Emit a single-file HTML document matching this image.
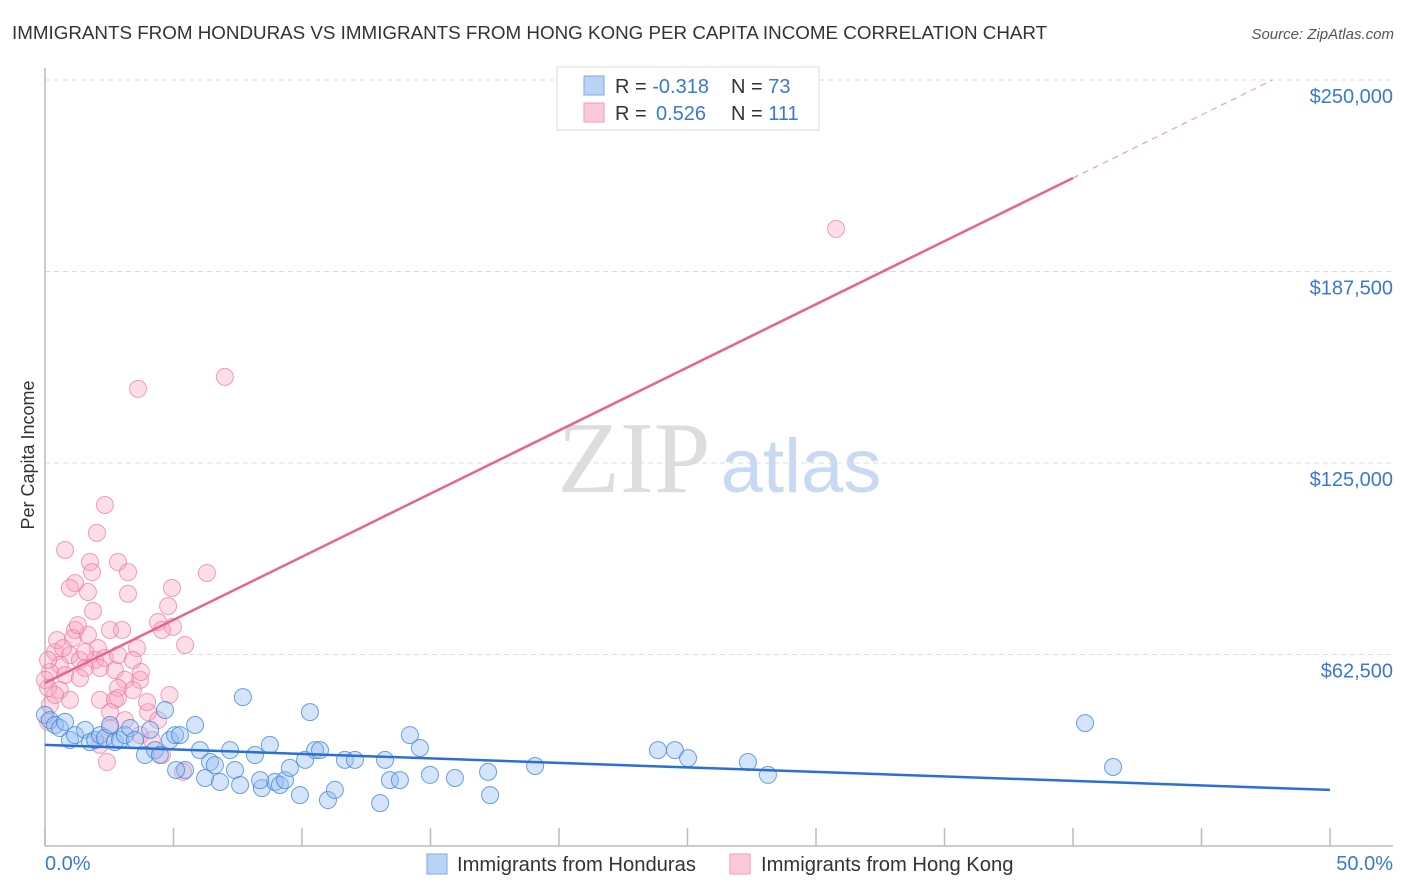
<!DOCTYPE html>
<html><head><meta charset="utf-8"><style>
body{margin:0;background:#fff;font-family:"Liberation Sans",sans-serif}
svg{display:block}
</style></head><body>
<svg id="chart" width="1406" height="892">
<text x="12" y="39" font-size="18.8" fill="#333">IMMIGRANTS FROM HONDURAS VS IMMIGRANTS FROM HONG KONG PER CAPITA INCOME CORRELATION CHART</text>
<text x="1394" y="39" font-size="15" fill="#555" font-style="italic" text-anchor="end">Source: ZipAtlas.com</text>
<text x="634" y="492" font-size="102" fill="#ddd" font-family="Liberation Serif,serif" text-anchor="middle">ZIP</text>
<text x="801" y="492" font-size="76" fill="#c8daf3" text-anchor="middle">atlas</text>
<g id="grid"></g><g id="axes"></g><g id="pts"></g><g id="lines"></g>
<text transform="translate(34,455) rotate(-90)" font-size="18" fill="#333" text-anchor="middle">Per Capita Income</text>
<g>
<rect x="557" y="67" width="262" height="63" fill="#fff" stroke="#ddd"/>
<rect x="584" y="76" width="20" height="19" fill="#b9d3f5" stroke="#7aaae8"/>
<rect x="584" y="103" width="20" height="19" fill="#fcc9d8" stroke="#f09ab4"/>
<text x="615" y="93" font-size="20" fill="#333">R = <tspan fill="#3a78d4">-0.318</tspan><tspan x="731">N = </tspan><tspan fill="#3a78d4">73</tspan></text>
<text x="615" y="120" font-size="20" fill="#333">R = <tspan x="656" fill="#3a78d4">0.526</tspan><tspan x="731">N = </tspan><tspan fill="#3a78d4">111</tspan></text>
</g>
<g>
<rect x="427" y="854" width="20" height="20" fill="#b9d3f5" stroke="#7aaae8"/>
<text x="457" y="871" font-size="20.2" fill="#333">Immigrants from Honduras</text>
<rect x="730" y="854" width="20" height="20" fill="#fcc9d8" stroke="#f09ab4"/>
<text x="761" y="871" font-size="20.2" fill="#333">Immigrants from Hong Kong</text>
</g>
</svg>
<script>
const yTicks=[62500,125000,187500,250000];
const yTickLabels=["$62,500","$125,000","$187,500","$250,000"];
const xTicks=[0,5,10,15,20,25,30,35,40,45,50];
const blueX=[0,0.19,0.39,0.58,0.78,0.97,1.17,1.56,1.75,1.95,2.14,2.33,2.53,2.72,2.92,3.11,3.31,3.5,3.89,4.09,4.28,4.47,4.67,4.86,5.06,5.25,5.45,5.84,6.03,6.23,6.42,6.61,6.81,7.2,7.39,7.59,8.17,8.44,8.75,8.95,9.14,9.34,9.53,9.92,10.12,10.31,10.51,10.7,11.01,11.28,11.67,12.06,13.04,13.23,13.42,14.2,14.59,14.98,15.95,17.24,17.32,19.07,7.7,23.85,24.51,25.02,27.35,28.13,40.47,41.56,13.81,8.37,5.1];
const blueY=[42.8,41.1,39.5,38.5,40.5,34.6,36.2,37.9,33.9,34.6,36.2,35.3,39.5,33.9,34.6,36.2,38.5,34.6,29.7,37.9,31.3,29.7,44.4,34.6,36.2,36.2,24.8,39.5,31.3,22.2,27.4,26.4,20.9,31.3,24.8,19.9,29.7,18.9,33,20.9,19.9,21.5,25.5,16.6,28.1,43.7,31.3,31.3,15,18.3,28.1,28.1,14,28.1,21.5,36.2,32,23.2,22.2,24.2,16.6,26.1,48.6,31.3,31.3,28.7,27.4,23.2,40.1,25.8,21.5,21.5,24.8];
const pinkX=[3.62,7.0,30.78,2.33,2.02,0.78,1.75,2.84,1.83,3.23,6.3,1.17,0.97,4.94,1.67,3.23,4.79,1.87,4.4,4.98,2.53,3.0,1.17,4.55,5.45,3.58,2.06,0.39,0.97,1.36,1.95,2.33,3.42,0.58,1.56,2.14,2.72,0.19,0.78,1.36,3.11,3.7,0.12,0.58,3.42,2.84,4.84,0.97,2.14,2.72,0.19,2.53,4.01,3.11,4.4,0.12,2.53,3.7,4.16,2.14,4.55,2.41,5.37,0.12,0.47,1.09,1.67,0.7,2.84,3.73,1.56,1.28,3.97,2.84,0,0.39];
const pinkY=[149.2,153.1,201.4,111.3,102.2,96.6,92.7,92.7,89.4,89.4,89.1,85.8,84.2,84.2,82.9,82.3,78.3,76.7,73.1,71.5,70.5,70.5,70.5,70.5,65.6,64.6,64.6,63.3,62.3,60.7,60.7,61.4,60.7,59.1,58.1,58.1,57.4,56.8,55.8,54.8,54.2,54.2,51.6,50.9,50.9,51.6,49.3,47.7,47.7,47.7,46,43.7,43.7,41.1,41.1,40.5,38.5,36.2,34.6,33,29.7,27.4,24.2,60.7,67.2,67.9,68.9,64.6,62.3,56.8,63.3,72.1,47,48.3,54.2,49.3];
const blueTrend=[33.0,18.3];
const pinkTrend=[53.2,218.0];
const NS="http://www.w3.org/2000/svg";
const X0=45,X1=1330,Y0=846;
function sx(p){return X0+(p/50)*(X1-X0);}
function sy(k){return Y0-(k/62.5)*191.5;}
function mk(t,a,parent){const e=document.createElementNS(NS,t);for(const k in a)e.setAttribute(k,a[k]);parent.appendChild(e);return e;}
const grid=document.getElementById('grid'),axes=document.getElementById('axes'),pts=document.getElementById('pts'),lines=document.getElementById('lines');
yTicks.forEach((v,i)=>{const y=sy(v/1000);
const g=mk('line',{x1:45,x2:1393,y1:y,y2:y,stroke:'#ddd','stroke-dasharray':'5,4'},grid);


const t=mk('text',{x:1393,y:y+23,'font-size':20,fill:'#3a78d4','text-anchor':'end'},grid);t.textContent=yTickLabels[i];

});
const la=mk('line',{x1:45,x2:45,y1:68,y2:846,stroke:'#bbb','stroke-width':1.5},axes);


const ba=mk('line',{x1:45,x2:1393,y1:846,y2:846,stroke:'#bbb','stroke-width':1.5},axes);


xTicks.forEach(p=>{const x=sx(p);const t=mk('line',{x1:x,x2:x,y1:828,y2:846,stroke:'#bbb','stroke-width':1.5},axes);

});
const xl0=mk('text',{x:45,y:870,'font-size':20,fill:'#3a78d4'},axes);xl0.textContent='0.0%';


const xl1=mk('text',{x:1393,y:870,'font-size':20,fill:'#3a78d4','text-anchor':'end'},axes);xl1.textContent='50.0%';


pinkX.forEach((p,i)=>{const c=mk('circle',{cx:sx(p),cy:sy(pinkY[i]),r:8.5,fill:'rgba(248,160,188,0.35)',stroke:'rgba(236,120,155,0.7)','stroke-width':1},pts);

});
blueX.forEach((p,i)=>{const c=mk('circle',{cx:sx(p),cy:sy(blueY[i]),r:8.5,fill:'rgba(150,190,240,0.4)',stroke:'rgba(60,130,220,0.75)','stroke-width':1},pts);

});
const bl=mk('line',{x1:sx(0),y1:sy(blueTrend[0]),x2:sx(50),y2:sy(blueTrend[1]),stroke:'#2a6fd6','stroke-width':2.5},lines);


const slope=(pinkTrend[1]-pinkTrend[0])/40;
const pl=mk('line',{x1:sx(0),y1:sy(pinkTrend[0]),x2:sx(40),y2:sy(pinkTrend[1]),stroke:'#e8638f','stroke-width':2.5},lines);


const pEnd=(250-pinkTrend[0])/slope;
const pd=mk('line',{x1:sx(40),y1:sy(pinkTrend[1]),x2:sx(pEnd),y2:sy(pinkTrend[0]+slope*pEnd),stroke:'#f0a0b8','stroke-width':1.2,'stroke-dasharray':'6,5'},lines);


</script>
</body></html>
